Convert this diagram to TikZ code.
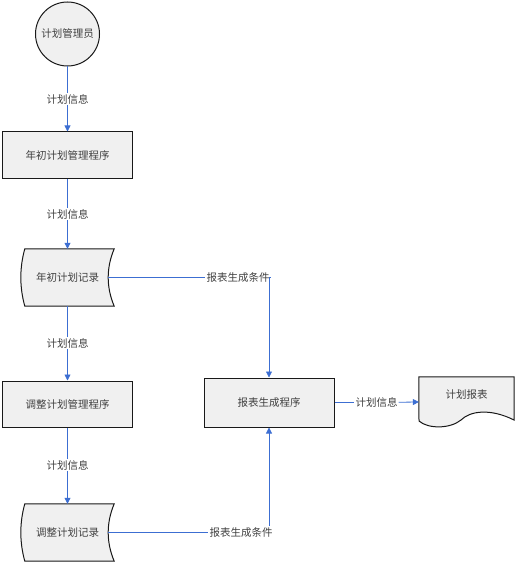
\documentclass[tikz,border=0pt]{standalone}
\usepackage{fontspec}
\setmainfont{Noto Sans CJK SC}
\usetikzlibrary{arrows.meta,calc,backgrounds}
\definecolor{flow}{RGB}{60,110,210}
\definecolor{shapefill}{RGB}{240,240,240}
\begin{document}
\begin{tikzpicture}[x=1pt,y=-1pt,
  every node/.style={font=\fontsize{10.5}{12}\selectfont, text=black!75},
  shapeline/.style={draw=black!90, line width=1pt, fill=shapefill},
  proc/.style={shapeline, minimum width=130pt, minimum height=46pt, inner sep=0pt},
  storebox/.style={minimum width=93pt, minimum height=57pt, inner sep=0pt},
  flowline/.style={draw=flow, line width=0.8pt},
  arr/.style={flowline, -{Triangle[width=6pt,length=6pt]}},
  lbl/.style={inner sep=1pt}
]
\useasboundingbox (0,0) rectangle (517,564);

% nodes
\node[shapeline, circle, minimum size=64pt, inner sep=0pt] (c) at (67.5,34) {计划管理员};
\node[proc] (b1) at (67.5,155) {年初计划管理程序};
\node[storebox] (s1) at (67.5,277.5) {年初计划记录};
\node[proc] (b2) at (67.5,404) {调整计划管理程序};
\node[storebox] (s2) at (67.5,532.5) {调整计划记录};
\node[proc, minimum height=49pt] (b3) at (269,402.5) {报表生成程序};
\node[minimum width=95pt, minimum height=50pt, inner sep=0pt] (d) at (466.5,402) {};
\node (dt) at (466.5,395) {计划报表};

% storage and document outlines
\begin{scope}[on background layer]
\foreach \s in {s1,s2}{
  \draw[shapeline] ([xshift=4pt]\s.north west) -- (\s.north east)
     .. controls +(-8,19) and +(-8,-19) .. (\s.south east)
     -- ([xshift=4pt]\s.south west)
     .. controls +(-5.3,-19) and +(-5.3,19) .. ([xshift=4pt]\s.north west) -- cycle;
}
\draw[shapeline] (d.north west) -- (d.north east) -- (514,420)
   .. controls (490,408) and (470,411) .. (461,420)
   .. controls (450,429) and (428,429) .. (419,421) -- cycle;
\end{scope}

\coordinate (s1r) at ([xshift=-6pt]s1.east);
\coordinate (s2r) at ([xshift=-6pt]s2.east);

% labels
\node[lbl] (l1) at (67.5,99) {计划信息};
\node[lbl] (l2) at (67.5,214) {计划信息};
\node[lbl] (l3) at (67.5,343) {计划信息};
\node[lbl] (l4) at (67.5,465) {计划信息};
\node[lbl] (l5) at (238,277.5) {报表生成条件};
\node[lbl] (l6) at (241,532.5) {报表生成条件};
\node[lbl] (l7) at (376.5,402.5) {计划信息};

% connectors
\draw[flowline] (c) -- (l1);
\draw[arr] (l1) -- (b1);
\draw[flowline] (b1) -- (l2);
\draw[arr] (l2) -- (s1);
\draw[flowline] (s1) -- (l3);
\draw[arr] (l3) -- (b2);
\draw[flowline] (b2) -- (l4);
\draw[arr] (l4) -- (s2);
\draw[flowline] (s1r) -- (l5);
\draw[arr] (l5.east) -| (b3.north);
\draw[flowline] (s2r) -- (l6);
\draw[arr] (l6.north -| b3.south) -- (b3.south);
\draw[flowline] (b3) -- (l7);
\draw[arr] (l7) -- (d.west);
\end{tikzpicture}
\end{document}
